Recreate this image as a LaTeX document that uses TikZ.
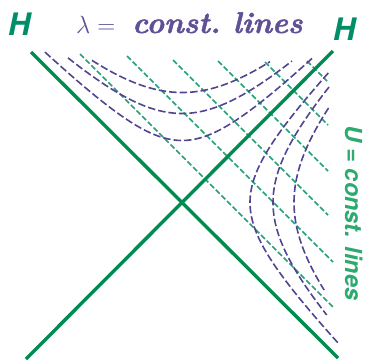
\documentclass[tikz,border=0pt]{standalone}
\usepackage{fontspec}
\newfontfamily\heros{TeX Gyre Heros}
\newfontfamily\titlefont{Latin Modern Roman}[BoldItalicFeatures={FakeBold=1.5}]
\definecolor{solidgreen}{RGB}{0,140,80}
\definecolor{dashgreen}{RGB}{35,160,122}
\definecolor{curvepurple}{RGB}{82,68,145}
\definecolor{titlepurple}{RGB}{96,80,150}
\definecolor{hgreen}{RGB}{0,142,104}
\definecolor{ugreen}{RGB}{45,170,112}
\tikzset{
  horizon/.style={draw=solidgreen, line width=3.4pt},
  uline/.style={draw=dashgreen, line width=1.5pt, dash pattern=on 5.5pt off 2.5pt},
  lline/.style={draw=curvepurple, line width=1.6pt, dash pattern=on 7.5pt off 3pt},
  hlabel/.style={text=hgreen, font=\heros\bfseries\itshape\fontsize{31}{31}\selectfont, inner sep=0pt},
}
\begin{document}
\begin{tikzpicture}[x=1pt,y=-1pt]
\useasboundingbox (0,0) rectangle (367,360);
% horizons
\coordinate (A1) at (31,52);
\coordinate (A2) at (338,358);
\coordinate (B1) at (333,51);
\coordinate (B2) at (26,359);
% U = const lines
\foreach \sx/\sy/\ex/\ey [count=\i] in {80/54/333/307, 127/56/333/262, 173/60/328/215, 218/61/328/171, 265/62/328/125, 307/61/327/81}{
  \coordinate (u\i s) at (\sx,\sy);
  \coordinate (u\i e) at (\ex,\ey);
  \draw[uline] (u\i s) -- (u\i e);
}
% lambda = const, top wedge
\foreach \a/\xa/\xb in {62/45/314, 89/68/292, 110/92/270}{
  \draw[lline] plot[domain=\xa:\xb, samples=60] (\x, {202.5 - 10*sqrt((\a/10)^2 + ((\x-182)/10)^2)});
}
% lambda = const, right wedge
\foreach \b/\ta/\tb in {68/129.5/-140.5, 91/115.5/-112.5, 112/94.5/-87.5}{
  \draw[lline] plot[domain=\ta:\tb, samples=60] ({182 + 10*sqrt((\b/10)^2 + (\x/10)^2)}, {202.5 - \x});
}
\draw[horizon] (A1) -- (A2);
\draw[horizon] (B1) -- (B2);
% labels
\node[hlabel, anchor=base west] (hl) at (8,35) {H};
\node[hlabel, anchor=base west] (hr) at (333,40) {H};
\node[anchor=base west, inner sep=0pt, text=titlepurple, font=\titlefont\fontsize{30}{30}\selectfont] (title) at (76,33) {$\lambda =$\hspace{17pt}\textbf{\textit{const.\ lines}}};
\node[anchor=base west, rotate=-90, inner sep=0pt, text=ugreen, font=\heros\bfseries\itshape\fontsize{23.5}{23.5}\selectfont] (ulab) at (345,125) {U = const. lines};
\end{tikzpicture}
\end{document}
